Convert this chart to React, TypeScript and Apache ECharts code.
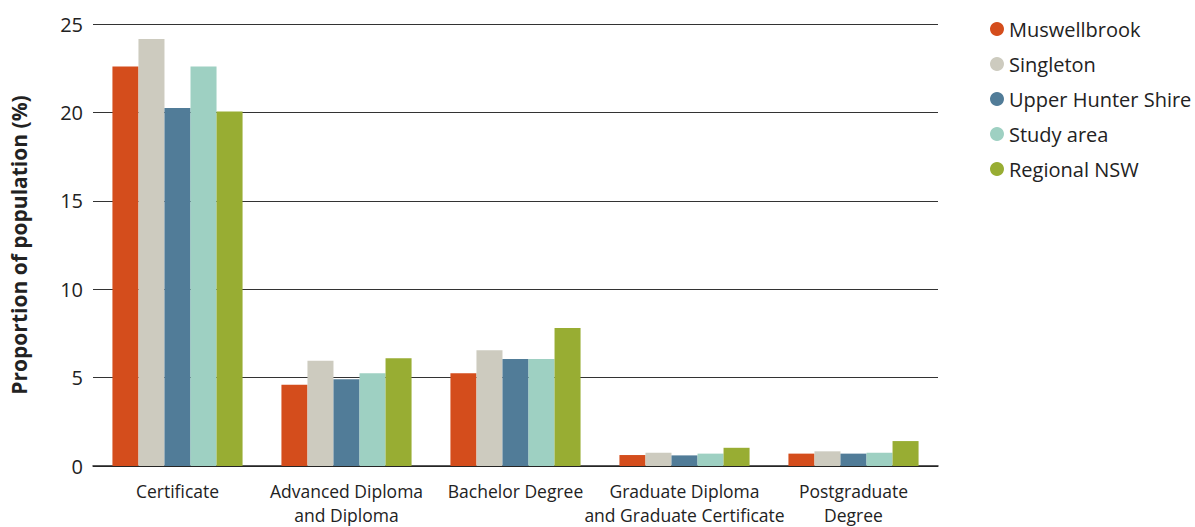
import React, { useEffect, useRef } from "react";
import * as echarts from "echarts";

const categories = [
  "Certificate",
  "Advanced Diploma\nand Diploma",
  "Bachelor Degree",
  "Graduate Diploma\nand Graduate Certificate",
  "Postgraduate\nDegree",
];

const seriesNames = ["Muswellbrook", "Singleton", "Upper Hunter Shire", "Study area", "Regional NSW"];
const seriesColors = ["#D44D1C", "#CDCBBF", "#517C98", "#9ED0C2", "#98AD33"];

const muswellbrook = [22.6, 4.6, 5.25, 0.62, 0.7];
const singleton = [24.15, 5.96, 6.55, 0.75, 0.83];
const upperHunter = [20.25, 4.9, 6.05, 0.6, 0.7];
const studyArea = [22.6, 5.25, 6.05, 0.7, 0.75];
const regionalNSW = [20.05, 6.1, 7.8, 1.03, 1.41];

const seriesValues = [muswellbrook, singleton, upperHunter, studyArea, regionalNSW];

const yTicks = { min: 0, max: 25, interval: 5 };

const FONT = "'Open Sans', 'Noto Sans', sans-serif";

export default function App() {
  const ref = useRef<HTMLDivElement>(null);

  useEffect(() => {
    document.body.style.margin = "0";
    if (!ref.current) return;
    const chart = echarts.init(ref.current, undefined, { renderer: "svg" });
    chart.setOption({
      animation: false,
      textStyle: { fontFamily: FONT, color: "#222" },
      grid: { left: 88, right: 257, top: 24, bottom: 60 },
      legend: {
        orient: "vertical",
        left: 985,
        top: 13,
        icon: "circle",
        itemWidth: 14,
        itemHeight: 14,
        itemGap: 13,
        textStyle: { fontSize: 20, fontFamily: FONT, color: "#222", lineHeight: 22 },
        data: seriesNames,
      },
      xAxis: {
        type: "category",
        data: categories,
        axisTick: { show: false },
        axisLine: { show: true, lineStyle: { color: "#222", width: 1.5 } },
        axisLabel: {
          fontSize: 17.5,
          lineHeight: 24,
          margin: 13,
          color: "#222",
          fontFamily: FONT,
          interval: 0,
        },
      },
      yAxis: {
        type: "value",
        min: yTicks.min,
        max: yTicks.max,
        interval: yTicks.interval,
        name: "Proportion of population (%)",
        nameLocation: "middle",
        nameGap: 64,
        nameTextStyle: { fontSize: 21, fontWeight: "bold", color: "#222", fontFamily: FONT },
        axisLine: { show: false },
        axisTick: { show: false },
        axisLabel: { fontSize: 20, color: "#222", margin: 10, fontFamily: FONT },
        splitLine: { show: true, lineStyle: { color: "#333", width: 1 } },
      },
      series: seriesNames.map((name, i) => ({
        name,
        type: "bar",
        data: seriesValues[i],
        barGap: "0%",
        barCategoryGap: "23%",
        itemStyle: { color: seriesColors[i] },
      })),
    });
    return () => chart.dispose();
  }, []);

  return <div ref={ref} style={{ width: 1195, height: 527 }} />;
}
